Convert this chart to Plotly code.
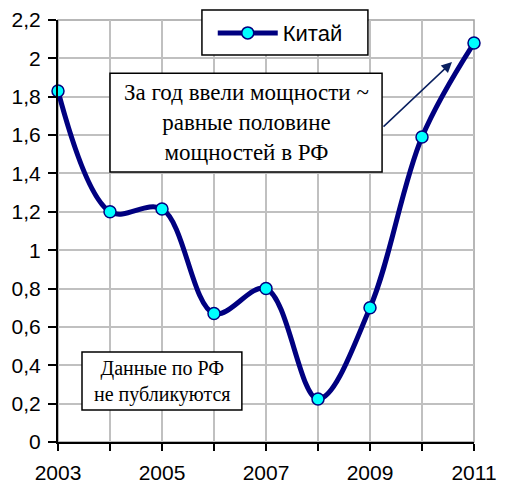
import plotly.graph_objects as go

years = [2003, 2004, 2005, 2006, 2007, 2008, 2009, 2010, 2011]
china = [1.83, 1.20, 1.215, 0.67, 0.80, 0.224, 0.70, 1.59, 2.08]
x_tick_vals = list(range(2003, 2012))
x_tick_text = ["2003", "", "2005", "", "2007", "", "2009", "", "2011"]
y_tick_vals = [0, 0.2, 0.4, 0.6, 0.8, 1.0, 1.2, 1.4, 1.6, 1.8, 2.0, 2.2]
y_tick_text = ["0", "0,2", "0,4", "0,6", "0,8", "1", "1,2", "1,4", "1,6", "1,8", "2", "2,2"]

NAVY = "#000080"
SANS = "Arial"
SERIF = "Times New Roman"

fig = go.Figure()
fig.add_trace(go.Scatter(
    x=years, y=china, name="Китай", mode="lines+markers",
    line=dict(color=NAVY, width=5, shape="spline", smoothing=1.0),
    marker=dict(size=12, color="#00FFFF", line=dict(color=NAVY, width=1.5)),
    cliponaxis=False,
))

def box(x0, x1, y0, y1):
    return dict(type="rect", xref="paper", yref="paper", x0=x0, x1=x1, y0=y0, y1=y1,
                line=dict(color="black", width=1.5), fillcolor="white", layer="above")

fig.update_layout(
    width=509, height=484,
    margin=dict(l=58, r=35, t=20, b=42, autoexpand=False),
    paper_bgcolor="white", plot_bgcolor="white",
    font=dict(family=SANS, size=20, color="black"),
    showlegend=True,
    legend=dict(
        x=0.372, y=0.969, xanchor="left", yanchor="middle",
        bgcolor="rgba(0,0,0,0)", borderwidth=0,
        font=dict(family=SANS, size=22), itemwidth=60,
    ),
    xaxis=dict(
        range=[2003, 2011], tickvals=x_tick_vals, ticktext=x_tick_text,
        showgrid=True, gridcolor="#c0c0c0", gridwidth=1.5,
        showline=True, linecolor="black", linewidth=2,
        ticks="outside", ticklen=7, tickcolor="black", tickwidth=2,
        zeroline=False, tickfont=dict(family=SANS, size=21), automargin=False,
        ticklabelstandoff=4,
    ),
    yaxis=dict(
        range=[0, 2.2], tickvals=y_tick_vals, ticktext=y_tick_text,
        showgrid=True, gridcolor="#c0c0c0", gridwidth=1.5,
        showline=True, linecolor="black", linewidth=2,
        ticks="outside", ticklen=8, tickcolor="black", tickwidth=2,
        zeroline=False, tickfont=dict(family=SANS, size=21), automargin=False,
        ticklabelstandoff=3,
    ),
    shapes=[
        dict(type="rect", xref="paper", yref="paper", x0=0, x1=1, y0=0, y1=1,
             line=dict(color="#a0a0a0", width=1.5), layer="below"),
        box(0.346, 0.745, 0.917, 1.0237),
        box(0.125, 0.779, 0.640, 0.874),
        box(0.0577, 0.442, 0.0758, 0.2133),
    ],
)

fig.add_annotation(
    xref="paper", yref="paper", x=0.452, y=0.757, xanchor="center", yanchor="middle",
    text="За год ввели мощности ~<br>равные половине<br>мощностей в РФ",
    showarrow=False, align="center",
    font=dict(family=SERIF, size=23, color="black"),
)
fig.add_annotation(
    x=2010.577, y=1.981, xref="x", yref="y", text="",
    showarrow=True, ax=-70, ay=66, arrowhead=2, arrowsize=1.4,
    arrowwidth=1.5, arrowcolor="#0a2060",
)
fig.add_annotation(
    xref="paper", yref="paper", x=0.25, y=0.1445, xanchor="center", yanchor="middle",
    text="Данные по РФ<br>не публикуются",
    showarrow=False, align="center",
    font=dict(family=SERIF, size=20, color="black"),
)

fig.write_html("out.html", post_script="document.body.style.margin='0';",
               config={"displayModeBar": False})
